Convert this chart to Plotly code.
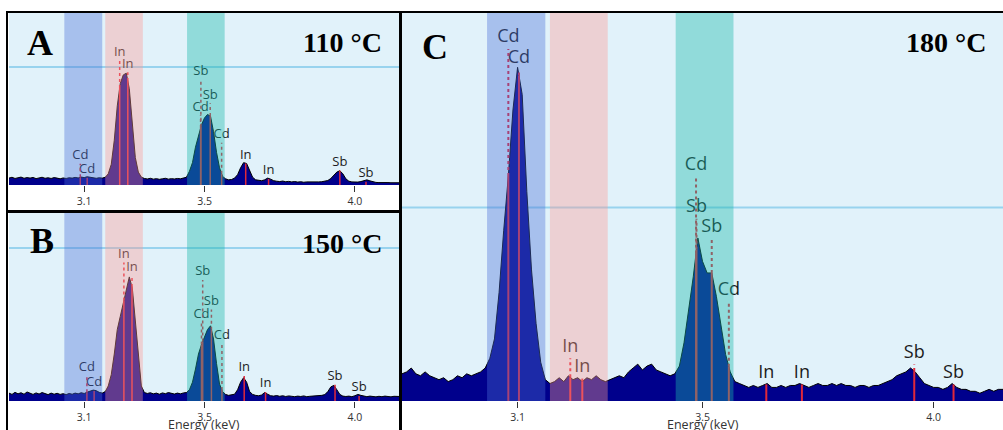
import numpy as np
import plotly.graph_objects as go

# ---------------- data ----------------
energy_keV = [
    2.85, 2.86, 2.87, 2.88, 2.89, 2.90, 2.91, 2.92, 2.93, 2.94,
    2.95, 2.96, 2.97, 2.98, 2.99, 3.00, 3.01, 3.02, 3.03, 3.04,
    3.05, 3.06, 3.07, 3.08, 3.09, 3.10, 3.11, 3.12, 3.13, 3.14,
    3.15, 3.16, 3.17, 3.18, 3.19, 3.20, 3.21, 3.22, 3.23, 3.24,
    3.25, 3.26, 3.27, 3.28, 3.29, 3.30, 3.31, 3.32, 3.33, 3.34,
    3.35, 3.36, 3.37, 3.38, 3.39, 3.40, 3.41, 3.42, 3.43, 3.44,
    3.45, 3.46, 3.47, 3.48, 3.49, 3.50, 3.51, 3.52, 3.53, 3.54,
    3.55, 3.56, 3.57, 3.58, 3.59, 3.60, 3.61, 3.62, 3.63, 3.64,
    3.65, 3.66, 3.67, 3.68, 3.69, 3.70, 3.71, 3.72, 3.73, 3.74,
    3.75, 3.76, 3.77, 3.78, 3.79, 3.80, 3.81, 3.82, 3.83, 3.84,
    3.85, 3.86, 3.87, 3.88, 3.89, 3.90, 3.91, 3.92, 3.93, 3.94,
    3.95, 3.96, 3.97, 3.98, 3.99, 4.00, 4.01, 4.02, 4.03, 4.04,
    4.05, 4.06, 4.07, 4.08, 4.09, 4.10, 4.11, 4.12, 4.13, 4.14,
    4.15,
]

counts_110C = [
    4.0, 4.5, 3.8, 4.2, 4.6, 3.9, 4.3, 4.0, 4.4, 3.7,
    4.1, 4.5, 3.9, 4.2, 3.8, 4.3, 4.0, 3.6, 4.1, 3.8,
    4.2, 4.0, 4.4, 4.1, 4.6, 4.3, 4.8, 4.4, 4.1, 3.9,
    4.2, 4.0, 4.5, 6.5, 12, 26, 46, 59, 64, 65,
    56, 35, 16, 7.5, 4.6, 3.8, 3.5, 3.9, 3.4, 3.7,
    3.3, 3.6, 3.9, 3.4, 3.7, 3.5, 3.8, 3.6, 3.9, 4.5,
    8, 13, 22, 29, 35, 39, 41, 40, 31, 19,
    10, 5, 3.6, 3.0, 3.2, 4.0, 6.0, 10, 13, 12.5,
    8, 4.5, 3.0, 2.6, 2.5, 3.0, 4.0, 3.4, 2.5, 2.2,
    2.0, 2.3, 1.9, 2.1, 1.8, 2.0, 1.7, 1.9, 1.6, 1.8,
    1.7, 1.9, 1.6, 1.8, 1.9, 2.1, 2.6, 3.8, 5.6, 7.5,
    8.3, 6.5, 3.6, 2.2, 1.8, 1.6, 1.7, 2.0, 2.7, 3.0,
    2.4, 1.8, 1.5, 1.4, 1.5, 1.3, 1.4, 1.3, 1.4, 1.2,
    1.3,
]

counts_150C = [
    4.2, 3.5, 4.6, 3.8, 4.4, 3.6, 4.8, 4.0, 3.5, 4.3,
    3.7, 4.5, 3.9, 3.4, 4.2, 3.6, 4.1, 3.5, 3.9, 3.4,
    4.0, 3.6, 4.2, 3.8, 4.4, 4.0, 4.7, 5.2, 5.8, 5.5,
    4.6, 4.2, 5.0, 8, 14, 25, 38, 45, 52, 59,
    66, 60, 42, 22, 8, 4.5, 4.0, 4.4, 3.8, 4.2,
    3.6, 4.3, 3.9, 4.5, 4.0, 3.7, 4.2, 3.8, 4.3, 4.5,
    6, 10, 17, 25, 30, 34, 38, 40, 33, 20,
    9, 5, 3.5, 3.0, 3.2, 3.6, 6, 10, 12.4, 10,
    5, 3.5, 3.0, 2.8, 3.2, 4.5, 3.6, 2.8, 2.6, 2.9,
    2.5, 2.8, 2.4, 2.7, 2.5, 2.3, 2.6, 2.4, 2.7, 2.3,
    2.5, 2.6, 2.4, 2.8, 3.0, 3.4, 5, 7.5, 8.3, 6,
    3.5, 2.6, 2.4, 2.6, 2.3, 2.8, 3.5, 3.0, 2.5, 2.3,
    2.6, 2.4, 2.2, 2.5, 2.3, 2.6, 2.4, 2.2, 2.5, 2.3,
    2.4,
]

counts_180C = [
    7.0, 7.5, 8.5, 7.0, 6.5, 7.5, 6.5, 6.0, 5.5, 6.0,
    5.0, 5.5, 6.5, 6.0, 7.0, 6.5, 7.0, 7.5, 8.5, 11,
    16, 28, 44, 58, 75, 86, 79, 54, 34, 20,
    10, 5.5, 4.5, 5.0, 6.0, 5.0, 6.5, 5.5, 6.0, 5.0,
    6.0, 5.5, 6.5, 5.5, 5.0, 5.5, 6.0, 6.5, 6.0, 7.5,
    8.5, 9.5, 8.0, 9.0, 9.5, 8.0, 7.5, 7.0, 6.5, 7.0,
    9, 15, 23, 32, 42, 36, 33, 33, 27, 19,
    12, 7.5, 5.0, 4.5, 4.0, 3.5, 4.0, 3.5, 4.0, 4.5,
    3.5, 3.5, 4.0, 3.5, 4.0, 4.0, 4.5, 4.0, 3.5, 4.0,
    4.5, 4.0, 4.0, 4.5, 4.0, 4.5, 4.0, 4.0, 3.5, 4.0,
    4.0, 3.5, 4.0, 4.0, 4.5, 5.0, 5.5, 6.5, 7.0, 7.5,
    8.5, 7.5, 6.0, 4.5, 4.0, 3.5, 3.5, 3.0, 3.5, 4.5,
    3.5, 3.0, 3.0, 2.5, 2.5, 2.0, 2.5, 3.0, 2.5, 3.0,
    3.0,
]

# element line markers: energy, label height, label text
lines_110C_keV = [3.087, 3.110, 3.218, 3.245, 3.488, 3.519, 3.487, 3.557, 3.637, 3.713, 3.950, 4.037]
lines_110C_y = [16.9, 8.7, 77.0, 70.0, 66.0, 52.0, 45.0, 29.0, 17.0, 8.0, 13.0, 6.4]
lines_110C_text = ["Cd", "Cd", "In", "In", "Sb", "Sb", "Cd", "Cd", "In", "In", "Sb", "Sb"]

lines_150C_keV = [3.109, 3.133, 3.232, 3.259, 3.494, 3.523, 3.490, 3.558, 3.632, 3.703, 3.934, 4.014]
lines_150C_y = [17.7, 9.6, 78.0, 70.7, 68.6, 53.0, 46.0, 34.6, 17.6, 9.0, 13.0, 7.0]
lines_150C_text = ["Cd", "Cd", "In", "In", "Sb", "Sb", "Cd", "Cd", "In", "In", "Sb", "Sb"]

lines_180C_keV = [3.080, 3.103, 3.214, 3.240, 3.486, 3.487, 3.520, 3.557, 3.638, 3.715, 3.958, 4.043]
lines_180C_y = [93.6, 88.2, 13.9, 8.7, 60.7, 49.9, 44.7, 28.5, 7.2, 7.2, 12.3, 7.2]
lines_180C_text = ["Cd", "Cd", "In", "In", "Cd", "Sb", "Sb", "Cd", "In", "In", "Sb", "Sb"]

# highlighted energy windows (Cd, In, Sb)
band_names = ["Cd", "In", "Sb"]
band_start_keV = [3.034, 3.170, 3.442]
band_end_keV = [3.160, 3.295, 3.567]

# horizontal cursor level in each panel
cursor_level = [68.6, 81.4, 49.9]

panel_letters = ["A", "B", "C"]
panel_temps = ["110 °C", "150 °C", "180 °C"]
axis_title = "Energy (keV)"

tick_values = [3.1, 3.5, 4.0]
tick_text = ["3.1", "3.5", "4.0"]

# ---------------- styling ----------------
W, H = 1003, 430
BG = "#E1F2FA"
FILL = "#00008C"
RED = "#E0283A"
band_colors = ["rgba(74,110,215,0.38)", "rgba(255,153,147,0.38)", "rgba(25,185,170,0.40)"]


def px_x(x):
    return x / W


def px_y(y):
    return 1 - y / H


panels = [
    dict(counts=counts_110C, ek=lines_110C_keV, ey=lines_110C_y, et=lines_110C_text,
         xdom=[px_x(9), px_x(400)], ydom=[px_y(185), px_y(13)],
         fs=13, off=4.5, lw=1.5, title=False),
    dict(counts=counts_150C, ek=lines_150C_keV, ey=lines_150C_y, et=lines_150C_text,
         xdom=[px_x(9), px_x(400)], ydom=[px_y(401), px_y(213)],
         fs=13, off=4.3, lw=1.5, title=True),
    dict(counts=counts_180C, ek=lines_180C_keV, ey=lines_180C_y, et=lines_180C_text,
         xdom=[px_x(402), 1.0], ydom=[px_y(401), px_y(13)],
         fs=18, off=2.9, lw=2, title=True),
]

fig = go.Figure()
shapes = []
annotations = []
layout_axes = {}

for i, p in enumerate(panels):
    n = "" if i == 0 else str(i + 1)
    xa, ya = "x" + n, "y" + n
    fig.add_trace(go.Scatter(
        x=energy_keV, y=p["counts"], mode="lines", fill="tozeroy",
        fillcolor=FILL, line=dict(color="#000000", width=1),
        xaxis=xa, yaxis=ya, showlegend=False, hoverinfo="skip"))
    fig.add_trace(go.Scatter(
        x=p["ek"], y=p["ey"], mode="text", text=p["et"],
        textposition="middle center",
        textfont=dict(family="Open Sans", size=p["fs"], color="#1C1C1C"),
        xaxis=xa, yaxis=ya, showlegend=False, hoverinfo="skip", cliponaxis=False))

    layout_axes["xaxis" + n] = dict(
        domain=p["xdom"], anchor=ya, range=[2.85, 4.15], automargin=False,
        tickvals=tick_values, ticktext=tick_text, ticks="outside",
        ticklen=6, tickwidth=1, tickcolor="#333333",
        tickfont=dict(family="Open Sans", size=10.5, color="#333333"),
        showgrid=False, zeroline=False, showline=False,
    )
    layout_axes["yaxis" + n] = dict(
        domain=p["ydom"], anchor=xa, range=[0, 100], visible=False, automargin=False,
        showgrid=False, zeroline=False)

    if p["title"]:
        annotations.append(dict(text=axis_title, xref=xa + " domain", yref="paper",
                                x=0.5, y=px_y(424), xanchor="center", yanchor="middle",
                                showarrow=False,
                                font=dict(family="Open Sans", size=12.5, color="#333333")))

    # cursor line (behind spectrum)
    shapes.append(dict(type="line", xref=xa + " domain", yref=ya, x0=0, x1=1,
                       y0=cursor_level[i], y1=cursor_level[i],
                       line=dict(color="#98D3EE", width=2), layer="below"))

    # element marker lines
    spec_h = np.interp(p["ek"], energy_keV, p["counts"])
    for e, ly, h in zip(p["ek"], p["ey"], spec_h):
        top = ly - p["off"]
        if top > h:
            shapes.append(dict(type="line", xref=xa, yref=ya, x0=e, x1=e, y0=h, y1=top,
                               line=dict(color=RED, width=p["lw"], dash="3px,3px"), layer="above"))
        shapes.append(dict(type="line", xref=xa, yref=ya, x0=e, x1=e, y0=0, y1=min(h, top),
                           line=dict(color=RED, width=p["lw"]), layer="above"))

    # energy windows on top (tint everything under them)
    for b0, b1, c in zip(band_start_keV, band_end_keV, band_colors):
        shapes.append(dict(type="rect", xref=xa, yref=ya + " domain", x0=b0, x1=b1,
                           y0=0, y1=1, fillcolor=c, line=dict(width=0), layer="above"))

# panel frames
for (x0, y0, x1, y1) in [(7, 12, 400, 211), (7, 212, 400, 433), (401, 12, 1004, 433)]:
    shapes.append(dict(type="rect", xref="paper", yref="paper",
                       x0=px_x(x0), x1=px_x(x1), y0=px_y(y1), y1=px_y(y0),
                       line=dict(color="#000000", width=2), fillcolor="rgba(0,0,0,0)",
                       layer="above"))

serif = "Liberation Serif"
letter_pos = [(40, 43), (42, 241), (435, 47)]
temp_pos = [(384, 42), (384, 244), (988, 42)]
for i in range(3):
    annotations.append(dict(text="<b>%s</b>" % panel_letters[i], xref="paper", yref="paper",
                            x=px_x(letter_pos[i][0]), y=px_y(letter_pos[i][1]),
                            xanchor="center", yanchor="middle", showarrow=False,
                            font=dict(family=serif, size=36, color="#000000")))
    annotations.append(dict(text="<b>%s</b>" % panel_temps[i], xref="paper", yref="paper",
                            x=px_x(temp_pos[i][0]), y=px_y(temp_pos[i][1]),
                            xanchor="right", yanchor="middle", showarrow=False,
                            font=dict(family=serif, size=28, color="#000000")))

fig.update_layout(
    width=W, height=H, autosize=False,
    margin=dict(l=0, r=0, t=0, b=0, autoexpand=False),
    paper_bgcolor="#FFFFFF", plot_bgcolor=BG,
    shapes=shapes, annotations=annotations,
    **layout_axes,
)

fig.write_html(
    "out.html",
    config={"displayModeBar": False},
    post_script="document.body.style.margin='0px';document.body.style.overflow='hidden';",
)
